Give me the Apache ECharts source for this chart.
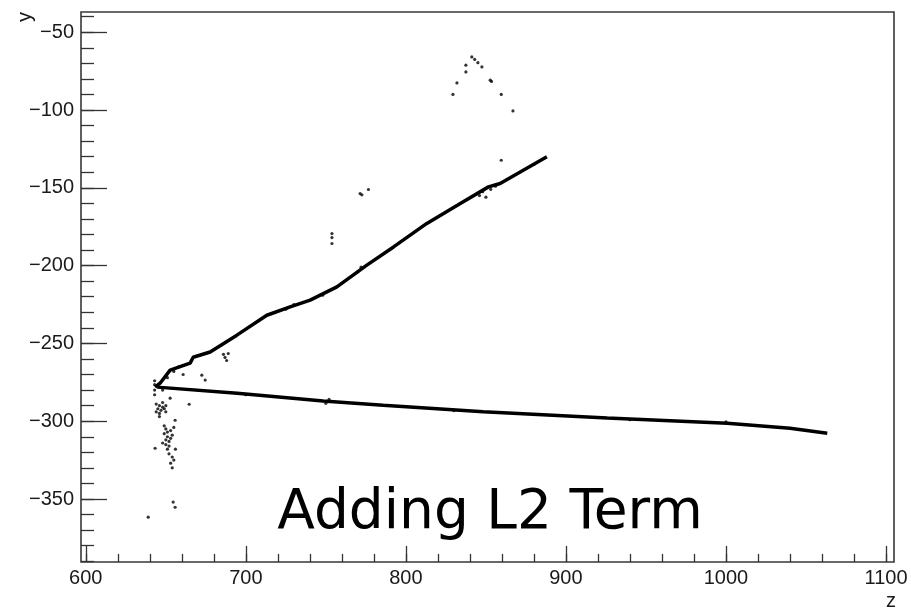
<!DOCTYPE html>
<html>
<head>
<meta charset="utf-8">
<title>Adding L2 Term</title>
<script src="https://cdn.jsdelivr.net/npm/echarts@6/dist/echarts.min.js"></script>
<style>
  html, body { margin: 0; padding: 0; background: #fff; }
  #chart { width: 911px; height: 609px; }
</style>
</head>
<body>
<div id="chart"></div>
<script>
// tick values (ROOT style: labelled majors, unlabelled minors)
const xMajor = [600, 700, 800, 900, 1000, 1100];
const xMinor = [600, 620, 640, 660, 680, 700, 720, 740, 760, 780, 800, 820, 840, 860, 880, 900,
  920, 940, 960, 980, 1000, 1020, 1040, 1060, 1080, 1100];
const yMajor = [-350, -300, -250, -200, -150, -100, -50];
const yMinor = [-390, -380, -370, -360, -350, -340, -330, -320, -310, -300, -290, -280, -270, -260,
  -250, -240, -230, -220, -210, -200, -190, -180, -170, -160, -150, -140, -130, -120, -110, -100,
  -90, -80, -70, -60, -50, -40];

// the two reconstructed tracks (z, y)
const upperTrack = [
  [643.3, -278.1], [646.4, -275.6], [652.7, -267.2], [665.2, -262.7], [667.1, -258.9],
  [677.7, -255.5], [694.4, -244.7], [713.1, -231.9], [727.7, -226.5], [740.2, -222.2],
  [756.9, -213.7], [775.6, -199.7], [792.3, -188.0], [813.1, -172.9], [834.0, -160.1],
  [851.6, -149.4], [858.9, -147.2], [888.1, -130.1]
];
const lowerTrack = [
  [644.6, -278.1], [694.6, -282.0], [748.3, -287.0], [785.8, -289.7], [848.3, -294.0],
  [925.8, -297.9], [1000.8, -301.3], [1040, -304.6], [1063.3, -307.7]
];

// stray hits
const strayHits = [
  [643, -274], [643, -276.5], [643, -280], [643, -283],
  [644, -289], [646, -290], [648, -291], [645, -292], [647, -293], [649, -292], [650, -290],
  [644, -294], [646, -295], [650, -294], [648, -288], [646, -297],
  [649, -303], [650, -305], [651, -307], [649, -308], [651, -310], [650, -312], [652, -313],
  [650, -315], [652, -316], [651, -318], [653, -306], [653, -311], [654, -309], [648, -314],
  [652, -321], [654, -323], [655, -325], [654, -330], [653, -327], [656, -318], [655, -304],
  [654.6, -352], [655.8, -355.3], [639, -361.7], [655.8, -299.4], [664.6, -289.1],
  [643.3, -317.4], [652.7, -285.2],
  [686, -257], [687, -259], [688, -261], [689, -256.5], [672.5, -270.4], [674.6, -273.6],
  [660.8, -270], [658, -265], [655, -268], [648, -280], [651, -272],
  [841.2, -65.9], [843, -67.5], [845, -69.6], [847.5, -72.3], [837.5, -71.2], [837.5, -75.5],
  [831.9, -82.6], [829.4, -90], [852.7, -80.8], [853.5, -81.6], [859.6, -90], [866.9, -100.6],
  [859.6, -132.3],
  [771.4, -153.7], [772.5, -154.5], [776.6, -151.1],
  [753.8, -179.4], [753.8, -182], [753.8, -185.8],
  [725, -228], [730, -225], [748, -219], [752, -216], [770, -204], [772, -201],
  [846, -155], [848, -152.5], [850, -156], [853, -151], [856, -149], [880, -135],
  [700, -283], [750, -288.5], [752, -286], [830, -293.2], [940, -299], [1000, -300.5], [1035, -304]
];

const minus = v => String(v).replace('-', '\u2212');
const labelFont = { fontFamily: 'Liberation Sans', fontSize: 20, color: '#1a1a1a' };

const chart = echarts.init(document.getElementById('chart'));

chart.setOption({
  animation: false,
  grid: {
    left: 81, top: 12, right: 17, bottom: 47,
    show: true, borderColor: '#383838', borderWidth: 1.6, backgroundColor: '#fff'
  },
  xAxis: [
    {
      type: 'value', min: 597, max: 1105, position: 'bottom',
      axisLine: { show: false }, splitLine: { show: false },
      axisTick: { inside: true, length: 16, customValues: xMajor, lineStyle: { color: '#333', width: 1.3 } },
      axisLabel: Object.assign({ margin: 6, customValues: xMajor, formatter: minus }, labelFont)
    },
    {
      type: 'value', min: 597, max: 1105, position: 'bottom',
      axisLine: { show: false }, splitLine: { show: false },
      axisTick: { inside: true, length: 8, customValues: xMinor, lineStyle: { color: '#333', width: 1.3 } },
      axisLabel: { show: false }
    }
  ],
  yAxis: [
    {
      type: 'value', min: -390.5, max: -37, position: 'left',
      axisLine: { show: false }, splitLine: { show: false },
      axisTick: { inside: true, length: 26, customValues: yMajor, lineStyle: { color: '#333', width: 1.3 } },
      axisLabel: Object.assign({ margin: 7, customValues: yMajor, formatter: minus }, labelFont)
    },
    {
      type: 'value', min: -390.5, max: -37, position: 'left',
      axisLine: { show: false }, splitLine: { show: false },
      axisTick: { inside: true, length: 13, customValues: yMinor, lineStyle: { color: '#333', width: 1.3 } },
      axisLabel: { show: false }
    }
  ],
  series: [
    {
      type: 'line', data: upperTrack, showSymbol: false, silent: true,
      lineStyle: { color: '#000', width: 3.5 }
    },
    {
      type: 'line', data: lowerTrack, showSymbol: false, silent: true,
      lineStyle: { color: '#000', width: 3.5 }
    },
    {
      type: 'scatter', data: strayHits, symbol: 'circle', symbolSize: 3.2, silent: true,
      itemStyle: { color: '#000' }
    }
  ],
  graphic: [
    {
      type: 'text', silent: true, position: [490, 514],
      style: {
        text: 'Adding L2 Term', fill: '#000',
        font: '55px "DejaVu Sans"', textAlign: 'center', textVerticalAlign: 'middle'
      }
    },
    {
      type: 'text', silent: true, position: [25, 17], rotation: Math.PI / 2,
      style: { text: 'y', fill: '#1a1a1a', font: '20px "Liberation Sans"', textAlign: 'center', textVerticalAlign: 'middle' }
    },
    {
      type: 'text', silent: true, position: [891, 601],
      style: { text: 'z', fill: '#1a1a1a', font: '20px "Liberation Sans"', textAlign: 'center', textVerticalAlign: 'middle' }
    }
  ]
});
</script>
</body>
</html>
